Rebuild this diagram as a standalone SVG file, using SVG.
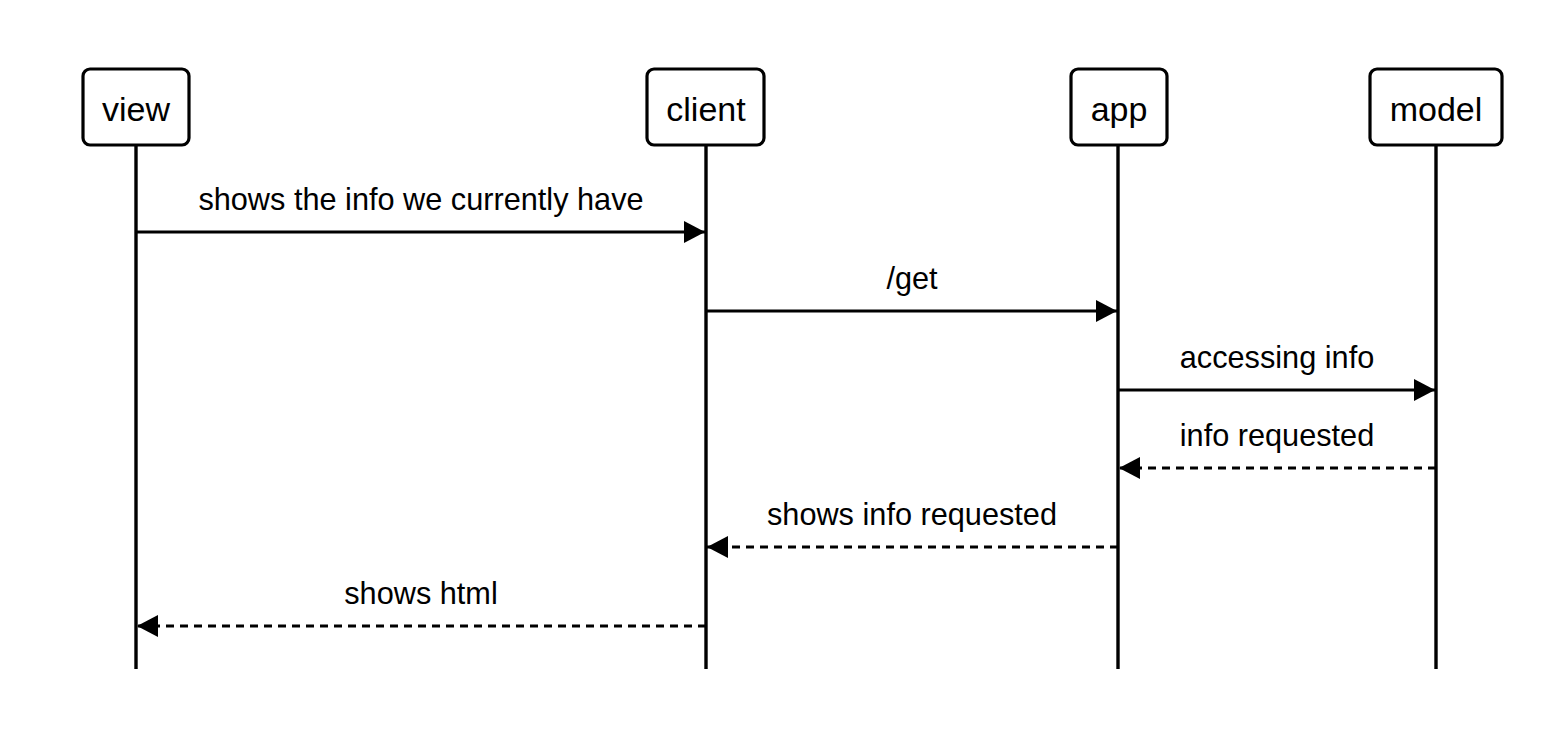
<svg xmlns="http://www.w3.org/2000/svg" width="1566" height="744" viewBox="0 0 1566 744">
<style>
.box{fill:#fff;stroke:#000;stroke-width:3.2}
.life{stroke:#000;stroke-width:3.4}
.msg{stroke:#000;stroke-width:3.2;fill:none}
.dash{stroke-dasharray:8 6}
.nt{font-family:"Liberation Sans",Arial,sans-serif;font-size:34px;text-anchor:middle;fill:#000}
.lt{font-family:"Liberation Sans",Arial,sans-serif;font-size:30.7px;text-anchor:middle;fill:#000}
</style>
<defs>
<marker id="ah" viewBox="0 0 21 22" refX="21" refY="11" markerWidth="21" markerHeight="22" markerUnits="userSpaceOnUse" orient="auto">
<path d="M0,0 L21,11 L0,22 Z" fill="#000"/>
</marker>
</defs>
<rect width="1566" height="744" fill="#fff"/>
<g id="lifelines">
<line class="life" x1="136" y1="146" x2="136" y2="669"/>
<line class="life" x1="706" y1="146" x2="706" y2="669"/>
<line class="life" x1="1118" y1="146" x2="1118" y2="669"/>
<line class="life" x1="1436" y1="146" x2="1436" y2="669"/>
</g>
<g id="view"><rect class="box" x="83" y="69" width="106" height="76" rx="7"/><text class="nt" x="136" y="121">view</text></g>
<g id="client"><rect class="box" x="647" y="69" width="117" height="76" rx="7"/><text class="nt" x="706" y="121">client</text></g>
<g id="app"><rect class="box" x="1071" y="69" width="96" height="76" rx="7"/><text class="nt" x="1119" y="121">app</text></g>
<g id="model"><rect class="box" x="1370" y="69" width="132" height="76" rx="7"/><text class="nt" x="1436" y="121">model</text></g>
<g id="connectors">
<line class="msg" x1="136" y1="232" x2="705" y2="232" marker-end="url(#ah)"/>
<text class="lt" x="421" y="210">shows the info we currently have</text>
<line class="msg" x1="706" y1="311" x2="1117" y2="311" marker-end="url(#ah)"/>
<text class="lt" x="912" y="289">/get</text>
<line class="msg" x1="1118" y1="390" x2="1435" y2="390" marker-end="url(#ah)"/>
<text class="lt" x="1277" y="368">accessing info</text>
<line class="msg dash" x1="1436" y1="468" x2="1119" y2="468" marker-end="url(#ah)"/>
<text class="lt" x="1277" y="446">info requested</text>
<line class="msg dash" x1="1118" y1="547" x2="707" y2="547" marker-end="url(#ah)"/>
<text class="lt" x="912" y="525">shows info requested</text>
<line class="msg dash" x1="706" y1="626" x2="137" y2="626" marker-end="url(#ah)"/>
<text class="lt" x="421" y="604">shows html</text>
</g>
</svg>
